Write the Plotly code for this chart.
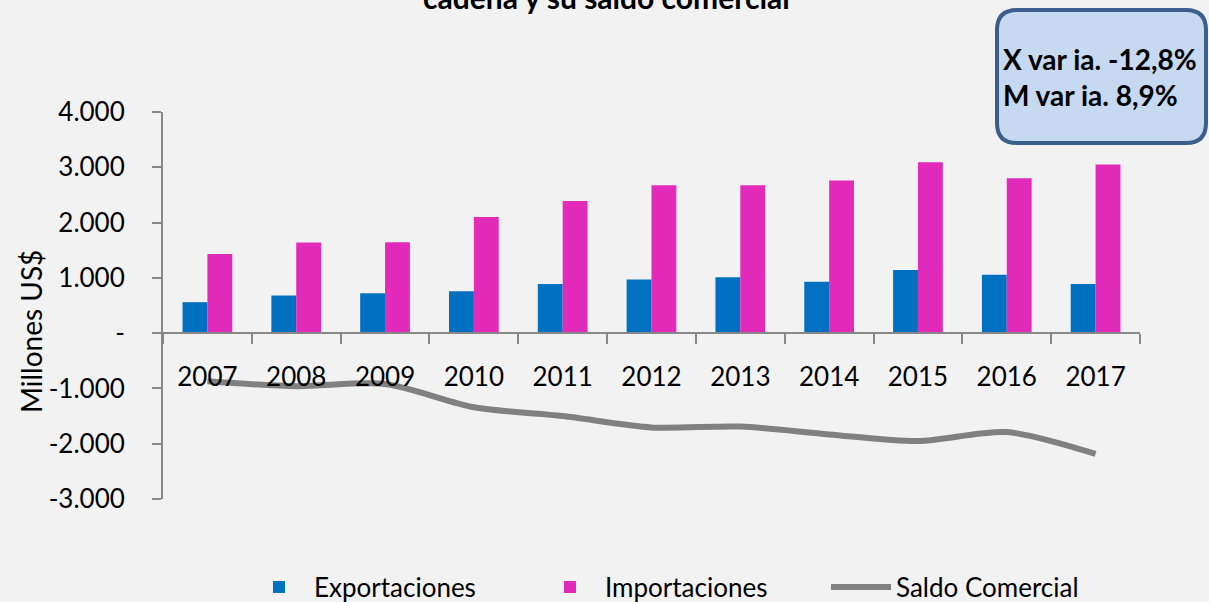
import plotly.graph_objects as go

years = ["2007", "2008", "2009", "2010", "2011", "2012", "2013", "2014", "2015", "2016", "2017"]
exportaciones = [560, 680, 720, 760, 890, 970, 1010, 930, 1140, 1055, 890]
importaciones = [1430, 1640, 1645, 2100, 2390, 2675, 2675, 2760, 3090, 2800, 3050]
saldo = [-870, -960, -920, -1340, -1500, -1705, -1690, -1832, -1952, -1790, -2185]

ytick_vals = [4000, 3000, 2000, 1000, 0, -1000, -2000, -3000]
ytick_text = ["4.000", "3.000", "2.000", "1.000", "-", "-1.000", "-2.000", "-3.000"]

FONT = "Lato"
AXIS = "#878787"

fig = go.Figure()
fig.add_trace(go.Bar(x=years, y=exportaciones, name="Exportaciones",
                     marker=dict(color="#0070C0", line=dict(width=0))))
fig.add_trace(go.Bar(x=years, y=importaciones, name="Importaciones",
                     marker=dict(color="#E32BBB", line=dict(width=0))))
fig.add_trace(go.Scatter(x=years, y=saldo, name="Saldo Comercial", mode="lines",
                         line=dict(color="#808080", width=6, shape="spline", smoothing=0.8)))

W, H = 1209, 602
L, R, T, B = 163, 69, 112, 103
pw, ph = W - L - R, H - T - B

def px(x):
    return (x - L) / pw

def py(y):
    return (H - B - y) / ph

# rounded box
x0, x1, y0, y1 = 997, 1206, 10, 143
r = 20
rx, ry = r / pw, r / ph
X0, X1, Y0, Y1 = px(x0), px(x1), py(y1), py(y0)
path = (f"M {X0+rx},{Y0} L {X1-rx},{Y0} Q {X1},{Y0} {X1},{Y0+ry} "
        f"L {X1},{Y1-ry} Q {X1},{Y1} {X1-rx},{Y1} L {X0+rx},{Y1} "
        f"Q {X0},{Y1} {X0},{Y1-ry} L {X0},{Y0+ry} Q {X0},{Y0} {X0+rx},{Y0} Z")

fig.update_layout(
    width=W, height=H,
    paper_bgcolor="#F2F2F2", plot_bgcolor="#F2F2F2",
    margin=dict(l=L, r=R, t=T, b=B, autoexpand=False),
    font=dict(family=FONT, size=26, color="#000000"),
    barmode="group", bargap=0.44, bargroupgap=0,
    showlegend=True,
    legend=dict(orientation="h", xref="container", yref="container",
                x=244 / W, xanchor="left", y=1 - 587 / H, yanchor="middle",
                font=dict(size=26), traceorder="normal", itemwidth=60,
                entrywidth=216, entrywidthmode="pixels"),
    shapes=[dict(type="path", path=path, xref="paper", yref="paper",
                 fillcolor="#C6D9F1", line=dict(color="#3B5E8C", width=4), layer="above")],
    annotations=[
        dict(text="<b>cadena y su saldo comercial</b>", xref="paper", yref="paper",
             x=px(606), y=py(-3), xanchor="center", yanchor="middle",
             showarrow=False, font=dict(size=30, family=FONT, color="#000000")),
        dict(text="<b>X var ia. -12,8%</b><br><b>M var ia. 8,9%</b>", xref="paper", yref="paper",
             x=px(1001), y=py(77), xanchor="left", yanchor="middle", align="left",
             showarrow=False, font=dict(size=28, family=FONT, color="#000000")),
        dict(text="Millones US$", xref="paper", yref="paper",
             x=px(31), y=py(332), xanchor="center", yanchor="middle", textangle=-90,
             showarrow=False, font=dict(size=28, family=FONT, color="#000000")),
    ],
    xaxis=dict(
        type="category", anchor="free", position=3/7,
        showline=True, linecolor=AXIS, linewidth=2,
        ticks="outside", ticklen=10, tickcolor=AXIS, tickwidth=2,
        tickson="boundaries", ticklabelstandoff=21,
        showgrid=False, zeroline=False, automargin=False,
        tickfont=dict(size=26),
    ),
    yaxis=dict(
        range=[-3000, 4000], tickvals=ytick_vals, ticktext=ytick_text,
        showline=True, linecolor=AXIS, linewidth=2,
        ticks="outside", ticklen=9, tickcolor=AXIS, tickwidth=2,
        showgrid=False, zeroline=False, ticklabelstandoff=22, automargin=False,
        tickfont=dict(size=26),
    ),
)

fig.write_html("out.html", config={"displayModeBar": False},
               post_script="document.body.style.margin='0';document.body.style.overflow='hidden';")
